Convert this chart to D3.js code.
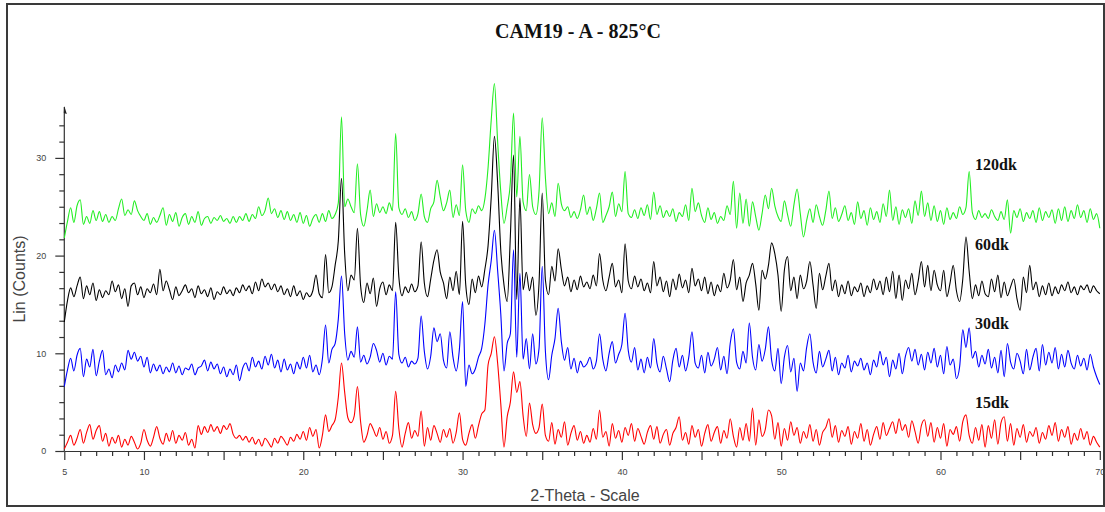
<!DOCTYPE html>
<html>
<head>
<meta charset="utf-8">
<script src="https://cdn.jsdelivr.net/npm/d3@7"></script>
<style>
  body { margin: 0; background: #fff; }
  svg { display: block; }
</style>
</head>
<body>
<div id="chart"></div>
<script>
// XRD patterns, CAM19 - A - 825°C (step 0.2 deg, 5 to 70)
const chartTitle = 'CAM19 - A - 825°C'
const thetaStart = 5
const thetaStep = 0.2

const seriesNames = ['15dk', '30dk', '60dk', '120dk']
const seriesColors = ['#ff0000', '#0000ff', '#000000', '#22ee22']

const counts15 = [
  0.2, 0.9, 1.6, 0.6, 1.3, 2.2, 0.8, 1.9, 2.7, 1.2,
  2.1, 2.6, 1.0, 1.8, 0.5, 1.4, 0.8, 1.6, 0.4, 1.2,
  0.6, 1.5, 0.9, 0.2, 0.8, 2.2, 1.1, 0.5, 1.4, 2.5,
  1.3, 0.7, 1.8, 1.0, 2.1, 0.8, 1.6, 1.1, 1.9, 0.6,
  1.2, 0.3, 2.6, 1.7, 2.5, 1.9, 2.7, 2.0, 2.5, 1.8,
  2.6, 2.2, 2.8, 1.7, 1.3, 1.6, 1.1, 1.5, 0.9, 1.4,
  0.7, 1.2, 0.5, 1.3, 0.9, 0.4, 1.3, 0.8, 1.5, 1.1,
  0.6, 1.4, 1.0, 1.7, 1.2, 2.0, 1.1, 2.4, 1.5, 2.2,
  0.3, 1.6, 3.7, 2.0, 2.6, 3.2, 5.5, 9.0, 6.0, 3.4,
  2.9, 3.6, 6.6, 3.0, 0.9, 1.6, 2.8, 2.2, 1.5, 2.4,
  1.2, 2.0, 0.8, 1.6, 6.1, 2.3, 0.4, 1.8, 2.9, 1.3,
  2.1, 1.5, 4.1, 0.5, 2.4, 1.1, 2.6, 1.8, 0.9, 2.2,
  1.4, 2.3, 0.8, 1.9, 3.9, 1.2, 0.6, 1.8, 2.7, 1.3,
  2.6, 3.8, 4.2, 8.8, 10.0, 11.7, 9.0, 4.8, 0.4, 3.5,
  5.0, 8.1, 6.0, 7.1, 3.6, 1.5, 4.9, 2.7, 1.8, 2.4,
  4.8, 1.6, 1.0, 2.9, 0.7, 2.2, 1.4, 3.0, 0.6, 1.8,
  2.6, 1.1, 2.0, 0.8, 1.6, 0.9, 2.3, 1.2, 4.2, 1.4,
  2.0, 0.5, 2.8, 1.3, 2.1, 0.9, 2.4, 1.6, 2.8, 1.0,
  2.3, 1.5, 0.7, 1.9, 2.6, 1.2, 2.5, 0.8, 1.7, 2.2,
  0.6, 1.8, 2.4, 3.5, 1.1, 1.9, 0.7, 2.6, 1.4, 2.2,
  0.5, 1.8, 2.7, 1.0, 1.9, 2.5, 0.8, 2.1, 1.3, 3.3,
  1.5, 0.4, 2.4, 1.1, 2.8, 1.0, 4.4, 0.6, 3.2, 1.5,
  2.2, 4.2, 3.6, 1.2, 2.9, 0.5, 2.3, 1.1, 3.0, 1.6,
  2.4, 0.8, 2.0, 1.3, 2.7, 1.0, 2.2, 0.6, 1.9, 2.4,
  3.3, 1.4, 2.6, 0.9, 2.1, 1.5, 2.5, 0.7, 2.0, 1.3,
  2.8, 1.0, 2.2, 0.6, 1.7, 2.5, 1.2, 2.9, 1.6, 2.3,
  3.0, 1.8, 3.3, 2.1, 2.7, 1.4, 3.1, 2.0, 0.8, 2.6,
  3.2, 1.5, 2.9, 0.9, 2.4, 1.3, 2.8, 0.5, 2.2, 1.7,
  2.5, 1.0, 3.0, 3.7, 1.6, 0.8, 2.4, 1.1, 2.7, 0.4,
  2.6, 1.3, 3.2, 0.7, 2.9, 3.5, 1.0, 2.8, 0.6, 2.3,
  1.4, 2.7, 0.9, 2.0, 1.5, 2.4, 0.8, 1.9, 1.2, 2.6,
  1.6, 2.9, 1.0, 2.2, 1.4, 2.5, 0.7, 1.8, 1.1, 2.3,
  1.2, 2.0, 0.6, 1.5, 0.9, 0.4
]

const counts30 = [
  6.6, 8.3, 9.5, 8.2, 9.8, 10.5, 7.6, 9.4, 8.6, 10.4,
  7.7, 9.2, 10.3, 7.8, 8.4, 7.5, 8.8, 8.1, 9.0, 8.3,
  10.3, 9.4, 10.1, 9.2, 9.7, 8.6, 9.6, 8.0, 8.9, 8.2,
  8.8, 7.9, 8.6, 8.1, 9.0, 8.0, 8.7, 7.8, 8.5, 8.3,
  8.9, 7.8, 8.5, 8.7, 9.3, 8.2, 9.1, 8.4, 8.9, 7.9,
  8.6, 7.6, 8.4, 7.8, 8.8, 7.2, 8.5, 9.0, 8.2, 9.6,
  8.6, 9.2, 8.4, 9.7, 8.8, 9.9, 8.5, 9.3, 8.1, 9.4,
  8.3, 8.9, 7.9, 9.1, 8.4, 9.6, 8.5, 9.8, 8.1, 8.8,
  7.8, 9.4, 12.9, 9.0, 10.4, 11.0, 13.5, 17.9, 12.0, 9.3,
  10.2, 9.6, 12.7, 9.1, 9.8, 8.9, 9.6, 11.0, 10.3, 9.1,
  10.0, 8.8, 9.7, 9.4, 16.3, 9.9, 9.0, 9.6, 8.6, 9.2,
  8.9, 9.5, 13.8, 10.2, 8.4, 9.7, 12.6, 11.2, 12.0, 9.3,
  8.5, 12.2, 9.6, 8.2, 10.4, 15.3, 6.6, 8.8, 7.9, 8.4,
  9.6, 10.5, 13.0, 17.0, 19.5, 22.6, 18.5, 14.0, 8.2, 11.0,
  12.0, 20.6, 9.6, 18.2, 9.4, 11.5, 8.4, 12.0, 8.9, 10.5,
  18.9, 10.2, 7.3, 9.8, 11.5, 14.6, 11.2, 9.3, 10.6, 8.4,
  9.5, 8.0, 9.2, 8.6, 8.9, 9.6, 8.4, 9.2, 12.0, 9.4,
  8.2, 10.0, 11.2, 9.0, 9.9, 10.9, 14.1, 10.3, 9.1, 10.6,
  8.3, 9.4, 8.0, 9.6, 8.5, 11.5, 9.0, 8.1, 9.7, 8.4,
  7.1, 9.3, 10.5, 8.6, 9.8, 8.2, 9.6, 12.2, 9.0, 8.5,
  9.8, 8.0, 10.1, 8.7, 9.4, 10.6, 8.3, 9.7, 7.9, 11.0,
  12.5, 9.1, 8.4, 10.2, 9.0, 13.1, 9.6, 8.3, 10.9, 9.2,
  10.4, 12.7, 9.3, 8.2, 10.5, 6.9, 9.6, 10.8, 8.1, 9.5,
  6.1, 9.0, 8.2, 10.6, 12.0, 9.1, 8.0, 10.2, 8.6, 9.4,
  10.3, 8.2, 9.6, 7.8, 9.0, 8.5, 9.8, 8.1, 9.2, 8.7,
  9.5, 8.3, 9.0, 7.8, 9.3, 8.6, 10.2, 8.8, 9.6, 7.6,
  9.3, 8.4, 10.0, 7.9, 9.7, 10.6, 9.2, 10.4, 8.8, 9.9,
  8.3, 10.1, 9.0, 10.5, 8.6, 9.8, 7.9, 10.7, 8.8, 9.4,
  7.4, 8.6, 12.4, 10.6, 12.6, 9.5, 10.2, 8.6, 9.8, 8.9,
  10.4, 8.5, 9.6, 8.0, 10.3, 7.6, 11.0, 9.1, 8.4, 10.0,
  9.2, 7.9, 10.4, 8.3, 9.6, 10.5, 8.2, 10.9, 8.8, 10.1,
  9.0, 10.6, 8.4, 9.9, 8.6, 10.3, 9.0, 8.4, 9.8, 8.7,
  9.5, 8.3, 9.9, 8.6, 7.6, 6.8
]

const counts60 = [
  13.2, 15.4, 16.7, 15.8, 16.9, 17.8, 15.6, 16.9, 16.0, 17.2,
  15.4, 16.5, 15.7, 16.4, 16.0, 17.4, 16.3, 17.0, 15.6, 16.6,
  14.8, 16.9, 17.2, 16.0, 16.8, 15.7, 16.6, 16.2, 17.1, 16.0,
  18.6, 16.4, 17.4, 16.5, 15.5, 16.8, 15.9, 16.4, 17.0, 16.2,
  16.6, 15.7, 16.9, 16.1, 16.5, 15.8, 16.7, 15.5, 16.3, 16.0,
  16.8, 16.1, 16.5, 15.9, 16.7, 16.2, 17.0, 16.4, 16.9, 16.1,
  17.3, 16.4, 17.6, 16.8, 17.2, 16.5, 17.1, 16.3, 16.9, 16.0,
  16.6, 15.8, 16.9, 15.9, 16.4, 15.5, 16.2, 15.8, 16.4, 18.0,
  16.1, 15.7, 20.1, 16.2, 16.8, 19.0, 21.5, 27.9, 20.2, 16.4,
  18.0, 17.5, 22.8, 16.9, 15.2, 17.2, 16.1, 17.7, 14.8, 16.6,
  17.3, 16.0, 17.0, 16.4, 23.4, 17.8, 15.9, 16.8, 16.2, 17.1,
  16.3, 16.9, 21.4, 17.2, 15.8, 17.6, 19.5, 20.6, 18.3, 17.2,
  15.6, 17.8, 16.4, 18.4, 16.0, 23.5, 17.0, 15.0, 17.6, 16.2,
  17.9, 16.8, 18.6, 21.0, 26.0, 32.2, 27.5, 20.5, 17.0, 15.3,
  22.0, 30.3, 15.5, 25.9, 16.5, 18.3, 16.4, 17.8, 13.9, 17.2,
  26.4, 17.5, 16.0, 18.9, 17.4, 20.7, 18.6, 16.9, 17.8, 16.3,
  17.5, 16.5, 17.9, 16.8, 17.3, 16.6, 18.0, 16.9, 20.2, 17.5,
  16.4, 17.8, 19.2, 16.8, 17.5, 16.2, 21.2, 17.4, 16.6, 17.9,
  16.8, 17.6, 16.4, 17.2, 16.2, 19.4, 16.9, 17.8, 16.3, 17.4,
  15.8, 17.6, 16.5, 18.1, 16.7, 17.5, 16.2, 18.7, 16.9, 17.6,
  16.4, 17.8, 16.1, 17.3, 15.9, 17.0, 16.3, 18.2, 16.7, 17.5,
  19.6, 16.5, 17.8, 15.3, 17.2, 18.0, 19.2, 17.1, 14.4, 18.5,
  17.6, 19.0, 21.3, 20.2, 18.0, 14.3, 18.5, 19.9, 16.4, 17.8,
  15.6, 18.0, 16.6, 17.4, 19.4, 17.0, 14.6, 18.2, 16.5, 17.9,
  19.2, 16.4, 17.5, 15.8, 17.0, 16.1, 17.4, 15.9, 16.8, 16.3,
  17.2, 15.8, 16.9, 16.2, 17.6, 16.5, 17.4, 16.0, 17.8, 16.3,
  18.4, 15.6, 18.0, 15.4, 17.5, 16.6, 18.2, 16.0, 17.4, 19.4,
  16.8, 19.0, 16.4, 18.5, 17.0, 16.4, 18.5, 15.8, 17.2, 19.0,
  16.4, 15.3, 17.6, 21.9, 18.4, 15.6, 17.0, 15.9, 17.4, 16.1,
  15.8, 17.6, 16.3, 18.0, 15.7, 17.3, 15.9, 16.8, 17.6, 15.6,
  14.4, 17.8, 16.2, 19.0, 16.5, 17.3, 15.8, 16.9, 16.0, 17.2,
  15.9, 16.8, 16.1, 17.0, 16.4, 17.3, 16.2, 16.8, 16.0, 16.9,
  16.5, 17.0, 16.2, 16.9, 16.4, 16.1
]

const counts120 = [
  21.8, 23.5, 24.9, 23.4, 25.1, 25.7, 23.2, 24.0, 23.3, 24.6,
  23.6, 24.5, 23.5, 24.2, 23.4, 24.0, 23.6, 24.8, 25.8, 24.1,
  24.7, 24.2, 25.6, 24.6, 24.0, 23.6, 24.3, 23.2, 23.9, 23.4,
  24.1, 24.9, 23.1, 24.2, 23.5, 24.4, 23.0, 23.9, 24.3, 23.2,
  24.0, 23.4, 24.5, 23.1, 23.8, 24.0, 23.3, 23.9, 23.6, 24.1,
  23.5, 23.8, 23.3, 24.0, 23.4, 24.0, 23.6, 24.3, 23.5, 24.2,
  23.8, 25.0, 24.1, 24.6, 25.9, 24.3, 24.8, 23.9, 24.6, 23.7,
  24.5, 23.6, 24.2, 23.4, 24.4, 23.3, 24.1, 23.0, 23.8, 24.2,
  23.4, 24.3, 23.5, 24.6, 23.8, 24.2, 25.4, 34.2, 25.0, 25.8,
  25.0, 24.4, 29.4, 24.2, 23.0, 24.6, 26.7, 24.0, 25.3, 24.4,
  25.0, 24.3, 25.4, 24.6, 32.5, 24.9, 24.2, 24.8, 23.9, 24.5,
  23.6, 24.3, 26.3, 24.0, 23.4, 24.8, 25.5, 27.7, 26.0, 24.6,
  25.4, 26.7, 23.9, 25.2, 24.1, 29.3, 24.6, 23.4, 24.8, 24.3,
  25.1, 24.6, 25.8, 29.0, 33.9, 37.6, 31.7, 26.5, 23.3, 25.0,
  27.5, 34.6, 26.0, 32.2, 25.5, 24.6, 28.3, 25.0, 24.2, 26.6,
  34.1, 28.0, 24.3, 25.4, 24.0, 27.4, 25.3, 24.6, 25.0, 23.9,
  24.5, 23.8, 24.7, 26.2, 24.2, 25.0, 23.6, 24.8, 26.4, 23.4,
  24.1, 25.0, 26.5, 24.0, 25.3, 24.5, 28.6, 24.3, 23.9, 24.7,
  23.8, 24.9, 24.1, 25.2, 23.7, 26.5, 24.2, 25.1, 23.9, 24.6,
  24.0, 24.8, 23.5, 24.4, 24.0, 25.2, 23.6, 26.9, 24.5, 25.4,
  24.1, 23.4, 24.9, 23.7, 24.4, 23.3, 24.0, 23.6, 25.1, 24.2,
  27.6, 22.8, 26.4, 23.3, 25.8, 23.0, 25.5, 24.0, 22.6, 24.3,
  26.2, 24.8, 26.9, 25.1, 24.0, 23.5, 25.6, 24.2, 23.0, 25.2,
  26.8, 24.3, 21.9, 23.6, 24.8, 23.4, 25.2, 24.0, 23.1, 24.6,
  26.6, 23.8, 24.9, 23.5, 24.2, 25.1, 23.6, 24.4, 23.2, 25.5,
  23.8, 24.6, 23.1, 24.9, 23.7, 24.5, 23.4, 25.3, 24.0, 26.7,
  23.6, 25.0, 23.2, 24.7, 23.9, 24.8, 23.3, 25.6, 24.1, 26.6,
  24.0, 25.4, 23.6, 25.1, 23.5, 24.6, 23.2, 24.9, 23.7, 24.4,
  23.8, 25.0, 24.2, 24.9, 28.6, 24.4, 23.7, 24.6, 23.9, 24.3,
  23.8, 24.7, 24.0, 23.6, 24.5, 23.7, 25.7, 22.3, 24.6, 23.9,
  24.8, 23.5, 24.4, 23.8, 24.6, 23.4, 24.9, 23.6, 24.5, 23.9,
  24.7, 23.3, 24.8, 23.6, 25.0, 23.5, 24.6, 23.8, 25.2, 23.9,
  24.6, 23.4, 24.8, 23.7, 24.3, 22.8
]

const seriesCounts = [counts15, counts30, counts60, counts120]

// y position of each series label (in counts)
const labelLevels = [4.4, 12.5, 20.6, 28.8]

const xTickLabels = [5, 10, 20, 30, 40, 50, 60, 70]
const yTickLabels = [0, 10, 20, 30]

// Constants
const width = 1105
const height = 512
const x0 = 64.3
const x1 = 1099.8
const yBase = 451

const svg = d3.select('#chart')
    .append('svg')
    .attr('width', width)
    .attr('height', height)

svg.append('rect')
    .attr('width', width)
    .attr('height', height)
    .attr('fill', '#fff')

// outer frame
svg.append('rect')
    .attr('x', 7)
    .attr('y', 4)
    .attr('width', 1097)
    .attr('height', 502)
    .attr('fill', 'none')
    .attr('stroke', '#3a3a3a')
    .attr('stroke-width', 2)

// Scales
const x = d3.scaleLinear()
    .domain([5, 70])
    .range([x0, x1])

const y = d3.scaleLinear()
    .domain([0, 35])
    .range([yBase, yBase - 35 * 9.77])

// X axis: minor every degree, longer every 5
const xAxisGroup = svg.append('g')
    .attr('transform', `translate(0, ${yBase})`)

const xMinor = d3.range(5, 71, 1)
xAxisGroup.call(d3.axisBottom(x)
    .tickValues(xMinor)
    .tickSizeInner(0)
    .tickSizeOuter(0)
    .tickFormat(''))
xAxisGroup.select('.domain')
    .attr('stroke', '#333')
    .attr('stroke-width', 1.2)
xAxisGroup.selectAll('.tick line')
    .attr('y2', d => d % 5 === 0 ? 9 : 5)
    .attr('stroke', '#333')
    .attr('stroke-width', 1.2)

const xLabelGroup = svg.append('g')
    .attr('transform', `translate(0, ${yBase})`)
xLabelGroup.call(d3.axisBottom(x)
    .tickValues(xTickLabels)
    .tickSize(0)
    .tickPadding(18))
xLabelGroup.select('.domain').remove()
xLabelGroup.selectAll('text')
    .style('font-family', '"Liberation Sans", Arial, sans-serif')
    .style('font-size', '9px')
    .attr('fill', '#444')

// Y axis: minor every 10/6 counts, longer on labelled values
const yAxisGroup = svg.append('g')
    .attr('transform', `translate(${x0}, 0)`)

const yMinor = d3.range(0, 21).map(i => i * 10 / 6)
yAxisGroup.call(d3.axisLeft(y)
    .tickValues(yMinor)
    .tickSizeInner(0)
    .tickSizeOuter(0)
    .tickFormat(''))
yAxisGroup.select('.domain').remove()
yAxisGroup.selectAll('.tick line')
    .attr('x2', (d, i) => i % 6 === 0 ? -9 : -5)
    .attr('stroke', '#333')
    .attr('stroke-width', 1.2)

yAxisGroup.append('line')
    .attr('x1', 0).attr('x2', 0)
    .attr('y1', yBase).attr('y2', y(35) - 2)
    .attr('stroke', '#333')
    .attr('stroke-width', 1.2)
yAxisGroup.append('path')
    .attr('d', `M0,${y(35) - 3} L2.5,${y(35) + 5} L-0.5,${y(35) + 4} Z`)
    .attr('fill', '#222')

const yLabelGroup = svg.append('g')
    .attr('transform', `translate(${x0}, 0)`)
yLabelGroup.call(d3.axisLeft(y)
    .tickValues(yTickLabels)
    .tickSize(0)
    .tickPadding(18))
yLabelGroup.select('.domain').remove()
yLabelGroup.selectAll('text')
    .style('font-family', '"Liberation Sans", Arial, sans-serif')
    .style('font-size', '9px')
    .attr('fill', '#444')

// Axis titles
svg.append('text')
    .attr('transform', 'translate(25, 279) rotate(-90)')
    .attr('text-anchor', 'middle')
    .style('font-family', '"Liberation Sans", Arial, sans-serif')
    .style('font-size', '16px')
    .attr('fill', '#444')
    .text('Lin (Counts)')

svg.append('text')
    .attr('x', 585)
    .attr('y', 501)
    .attr('text-anchor', 'middle')
    .style('font-family', '"Liberation Sans", Arial, sans-serif')
    .style('font-size', '16px')
    .attr('fill', '#444')
    .text('2-Theta - Scale')

// Title
svg.append('text')
    .attr('x', 578)
    .attr('y', 38)
    .attr('text-anchor', 'middle')
    .style('font-family', '"Liberation Serif", "Times New Roman", serif')
    .style('font-weight', 'bold')
    .style('font-size', '20px')
    .attr('fill', '#111')
    .text(chartTitle)

// Lines
const line = d3.line()
    .x((d, i) => x(thetaStart + i * thetaStep))
    .y(d => y(d))
    .curve(d3.curveMonotoneX)

const order = [3, 2, 1, 0]
svg.append('g')
    .selectAll('path')
    .data(order)
    .join('path')
    .attr('d', k => line(seriesCounts[k]))
    .attr('fill', 'none')
    .attr('stroke', k => seriesColors[k])
    .attr('stroke-width', 1.1)
    .attr('stroke-linejoin', 'round')

// Series labels
svg.append('g')
    .selectAll('text')
    .data(seriesNames)
    .join('text')
    .attr('x', 975)
    .attr('y', (d, i) => y(labelLevels[i]))
    .style('font-family', '"Liberation Serif", "Times New Roman", serif')
    .style('font-weight', 'bold')
    .style('font-size', '16px')
    .attr('fill', '#111')
    .text(d => d)
</script>
</body>
</html>
